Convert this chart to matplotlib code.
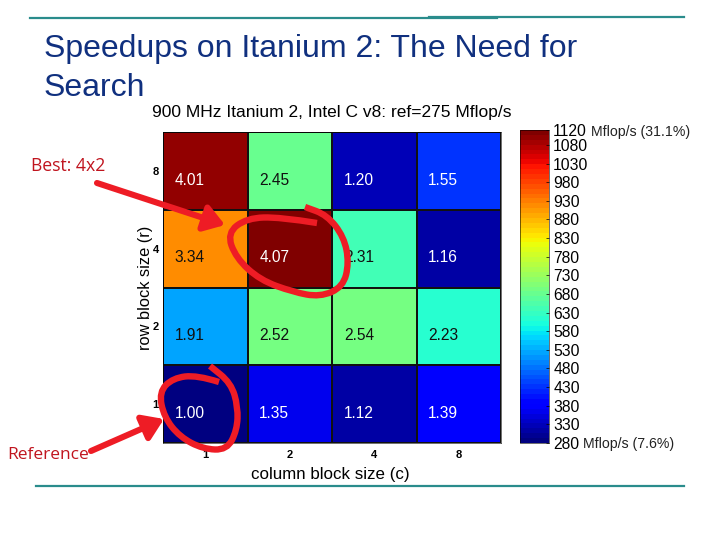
import numpy as np
import matplotlib
matplotlib.use("Agg")
import matplotlib.pyplot as plt
from matplotlib.path import Path
from matplotlib.patches import PathPatch, FancyArrowPatch
from matplotlib.colors import Normalize
from matplotlib.cm import ScalarMappable

# ---- data ----
col_sizes = ["1", "2", "4", "8"]
row_sizes = ["1", "2", "4", "8"]
speedup_r1 = [1.00, 1.35, 1.12, 1.39]
speedup_r2 = [1.91, 2.52, 2.54, 2.23]
speedup_r4 = [3.34, 4.07, 2.31, 1.16]
speedup_r8 = [4.01, 2.45, 1.20, 1.55]
ref_mflops = 275
cbar_ticks = [280, 330, 380, 430, 480, 530, 580, 630, 680, 730, 780, 830,
              880, 930, 980, 1030, 1080, 1120]

W, H = 720, 540
plt.rcParams["font.family"] = ["Liberation Sans", "DejaVu Sans"]
fig = plt.figure(figsize=(7.2, 5.4), dpi=100, facecolor="white")


def px_axes(x0, y0, x1, y1):
    return fig.add_axes([x0 / W, 1 - y1 / H, (x1 - x0) / W, (y1 - y0) / H])


speedups = np.array([speedup_r1, speedup_r2, speedup_r4, speedup_r8])
cmap = plt.get_cmap("jet", 64)
norm = Normalize(280, 1120)

# heat map
ax = px_axes(163, 132, 501, 443)
ax.pcolormesh(np.arange(5), np.arange(5), speedups * ref_mflops, cmap=cmap,
              norm=norm, edgecolors="#111111", linewidth=0.35)
ax.set_xticks(np.arange(4) + 0.5, col_sizes, fontsize=8, fontweight="bold")
ax.set_yticks(np.arange(4) + 0.5, row_sizes, fontsize=8, fontweight="bold")
ax.tick_params(length=0)
ax.tick_params(axis="x", pad=5)
ax.tick_params(axis="y", pad=3)
for s in ax.spines.values():
    s.set_linewidth(0.4)
for r in range(4):
    for c in range(4):
        v = speedups[r, c]
        ax.text(c + 0.14, r + 0.38, f"{v:.2f}", fontsize=11.2, va="center",
                ha="left", color="white" if (v < 1.7 or v > 4.0) else "#111111")
ax.set_xlabel("column block size (c)", fontsize=12.2, labelpad=5, x=0.495)
ax.set_ylabel("row block size (r)", fontsize=11.8, labelpad=0)
ax.set_title(f"900 MHz Itanium 2, Intel C v8: ref={ref_mflops} Mflop/s",
             fontsize=12.5, pad=11, x=0.5)

# colour bar
cax = px_axes(520, 130, 549, 443)
cb = fig.colorbar(ScalarMappable(norm=norm, cmap=cmap), cax=cax)
cb.set_ticks(cbar_ticks, labels=[str(t) for t in cbar_ticks])
cb.ax.tick_params(labelsize=11.3, length=2, width=0.5, direction="in", pad=3)
cb.outline.set_linewidth(0.4)

# slide overlay in pixel coordinates
ov = fig.add_axes([0, 0, 1, 1], facecolor="none")
ov.set_xlim(0, W)
ov.set_ylim(H, 0)
ov.axis("off")

teal = "#2a8c8c"
ov.plot([30, 497], [18, 18], color=teal, lw=1.6)
ov.plot([429, 684], [16.5, 16.5], color=teal, lw=1.6)
ov.plot([36, 684], [486, 486], color=teal, lw=1.6)

navy = "#10307f"
ov.text(44, 46, "Speedups on Itanium 2: The Need for", fontsize=23, color=navy,
        va="center_baseline", ha="left")
ov.text(44, 84, "Search", fontsize=23, color=navy, va="center_baseline", ha="left")

ov.text(591, 132, "Mflop/s (31.1%)", fontsize=10.2, color="#222222", va="center")
ov.text(583, 444, "Mflop/s (7.6%)", fontsize=10.2, color="#222222", va="center")

crim = "#c0141e"
ov.text(31, 166, "Best: 4x2", fontsize=12.7, family="Open Sans", color=crim, va="center")
ov.text(7, 455, "Reference", fontsize=12.5, family="Open Sans", color=crim, va="center")


def scribble(pts):
    pts = np.asarray(pts, float)
    verts, codes = [pts[0]], [Path.MOVETO]
    for i in range(1, len(pts) - 1):
        verts += [pts[i], (pts[i] + pts[i + 1]) / 2]
        codes += [Path.CURVE3, Path.CURVE3]
    verts.append(pts[-1])
    codes.append(Path.LINETO)
    ov.add_patch(PathPatch(Path(verts, codes), fill=False, edgecolor="#ee1c25",
                           lw=4.6, capstyle="butt", joinstyle="round"))


scribble([(317, 223), (280, 217), (247, 218), (227, 233), (236, 258), (260, 280),
          (293, 292), (320, 297), (343, 287), (349, 263), (344, 237), (327, 215),
          (305, 207)])
scribble([(219, 382), (197, 375), (173, 378), (159, 392), (164, 417), (180, 437),
          (203, 449), (227, 450), (237, 430), (238, 407), (231, 383), (210, 366)])

for a, b in [((97, 183), (225, 225)), ((91, 451), (164, 419))]:
    ov.add_patch(FancyArrowPatch(a, b, arrowstyle="-|>,head_length=6,head_width=4",
                                 color="#ee1c25", lw=4.4, shrinkA=0, shrinkB=0,
                                 mutation_scale=2.0))

fig.savefig("out.png", dpi=100)
